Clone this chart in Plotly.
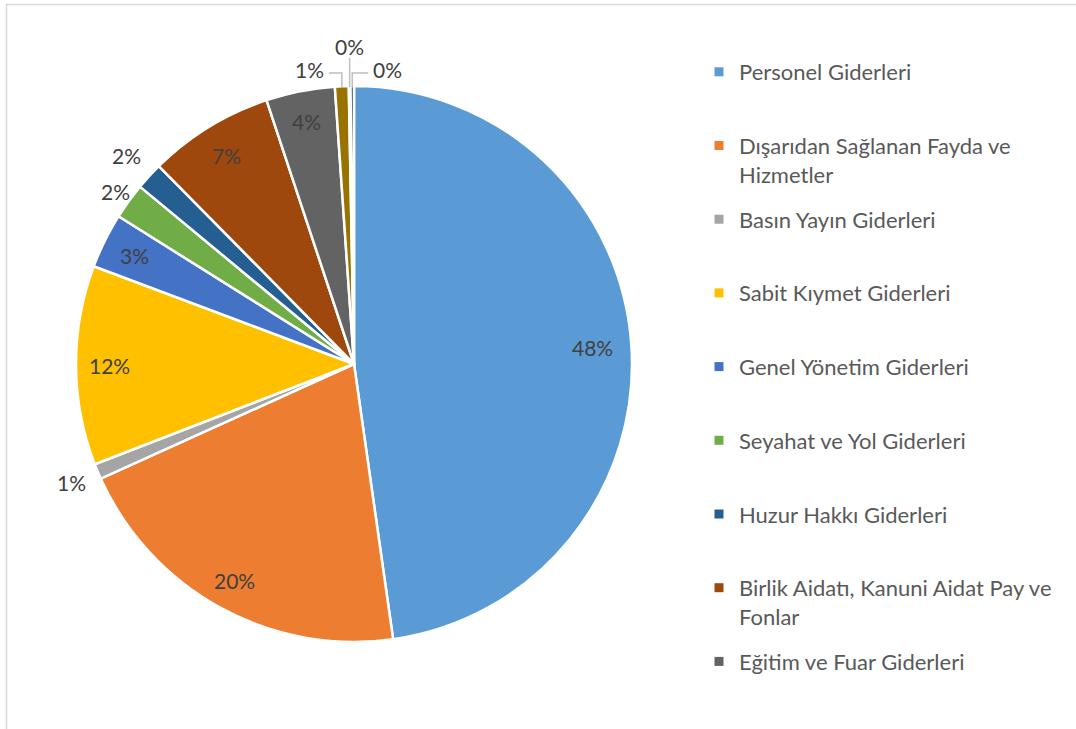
import math
import plotly.graph_objects as go

labels = ["Personel Giderleri", "Dışarıdan Sağlanan Fayda ve Hizmetler", "Basın Yayın Giderleri",
          "Sabit Kıymet Giderleri", "Genel Yönetim Giderleri", "Seyahat ve Yol Giderleri",
          "Huzur Hakkı Giderleri", "Birlik Aidatı, Kanuni Aidat Pay ve Fonlar",
          "Eğitim ve Fuar Giderleri", "Diğer Giderler 1", "Diğer Giderler 2", "Diğer Giderler 3"]
values = [47.8, 20.5, 0.9, 11.6, 3.2, 2.1, 1.6, 7.3, 4.0, 0.8, 0.1, 0.2]
colors = ["#5B9BD5", "#ED7D31", "#A5A5A5", "#FFC000", "#4472C4", "#70AD47",
          "#255E91", "#9E480E", "#636363", "#997300", "#A5A5A5", "#264478"]

legend_labels = ["Personel Giderleri", "Dışarıdan Sağlanan Fayda ve<br>Hizmetler", "Basın Yayın Giderleri",
                 "Sabit Kıymet Giderleri", "Genel Yönetim Giderleri", "Seyahat ve Yol Giderleri",
                 "Huzur Hakkı Giderleri", "Birlik Aidatı, Kanuni Aidat Pay ve<br>Fonlar",
                 "Eğitim ve Fuar Giderleri"]

# ---- layout / style ----
W, H = 1076, 729
FONT = "Lato"
CX, CY, R = 354, 364, 278          # pie centre and radius in pixels
LABEL_COLOR = "#404040"
LEADER_COLOR = "#BFBFBF"
# label placement style per slice: ("in", k) inside at k*R, ("out", k) outside, or leader styles
label_style = [("in", 0.86), ("in", 0.89), ("out", 1.1), ("in", 0.88), ("in", 0.88), ("out", 1.06),
               ("out", 1.11), ("in", 0.88), ("in", 0.89), ("lead_left",), ("lead_up",), ("lead_right",)]


def px(x):
    return x / W


def py(y):
    return 1 - y / H


fig = go.Figure()
fig.add_trace(go.Pie(
    labels=labels, values=values, sort=False, direction="clockwise", rotation=0,
    marker=dict(colors=colors, line=dict(color="white", width=2.5)),
    textinfo="none",
    domain=dict(x=[px(CX - R), px(CX + R)], y=[py(CY + R), py(CY - R)]),
    showlegend=False, hoverinfo="label+percent",
))

# data labels computed from the slice angles
total = sum(values)
annotations = []
shapes = []
cum = 0.0
for v, st in zip(values, label_style):
    mid = math.radians((cum + v / 2) / total * 360)
    cum += v
    txt = "%d%%" % round(v / total * 100)
    sx, sy = math.sin(mid), -math.cos(mid)
    if st[0] in ("in", "out"):
        x, y = CX + st[1] * R * sx, CY + st[1] * R * sy
        annotations.append(dict(x=px(x), y=py(y), xref="paper", yref="paper", text=txt,
                                showarrow=False, xanchor="center", yanchor="middle",
                                font=dict(family=FONT, size=21, color=LABEL_COLOR)))
    else:
        rx, ry = CX + (R - 1) * sx, CY + (R - 1) * sy
        if st[0] == "lead_left":
            elbow_y = 73
            path_pts = [(rx, ry), (rx, elbow_y), (rx - 13, elbow_y)]
            lx, ly, anch = rx - 16, 69, "right"
        elif st[0] == "lead_up":
            path_pts = [(rx, ry), (rx, 58)]
            lx, ly, anch = rx, 46, "center"
        else:
            elbow_y = 73
            path_pts = [(rx, ry), (rx, elbow_y), (rx + 16, elbow_y)]
            lx, ly, anch = rx + 19, 69, "left"
        path = "M " + " L ".join("%f,%f" % (px(a), py(b)) for a, b in path_pts)
        shapes.append(dict(type="path", xref="paper", yref="paper", path=path,
                           line=dict(color=LEADER_COLOR, width=1.5)))
        annotations.append(dict(x=px(lx), y=py(ly), xref="paper", yref="paper", text=txt,
                                showarrow=False, xanchor=anch, yanchor="middle",
                                font=dict(family=FONT, size=21, color=LABEL_COLOR)))

for i, name in enumerate(legend_labels):
    t = name if "<br>" in name else name + "<br>\u00a0"
    fig.add_trace(go.Scatter(
        x=[None], y=[None], mode="markers", name=t,
        marker=dict(symbol="square", size=9, color=colors[i]),
        legendgroup="g%d" % i, showlegend=True,
    ))

shapes.append(dict(type="rect", xref="paper", yref="paper", x0=px(6.5), x1=1.02,
                   y0=-0.02, y1=py(4.5), line=dict(color="#D9D9D9", width=1.5),
                   fillcolor="rgba(0,0,0,0)", layer="below"))

fig.update_layout(
    width=W, height=H, margin=dict(l=0, r=0, t=0, b=0),
    paper_bgcolor="white", plot_bgcolor="white",
    xaxis=dict(visible=False), yaxis=dict(visible=False),
    legend=dict(x=px(699), xanchor="left", y=py(51), yanchor="top",
                font=dict(family=FONT, size=22, color="#595959"),
                valign="top", tracegroupgap=13.5, bgcolor="rgba(0,0,0,0)"),
    shapes=shapes, annotations=annotations,
)

fig.write_html("out.html", config={"displayModeBar": False},
               post_script="document.body.style.margin='0';")
